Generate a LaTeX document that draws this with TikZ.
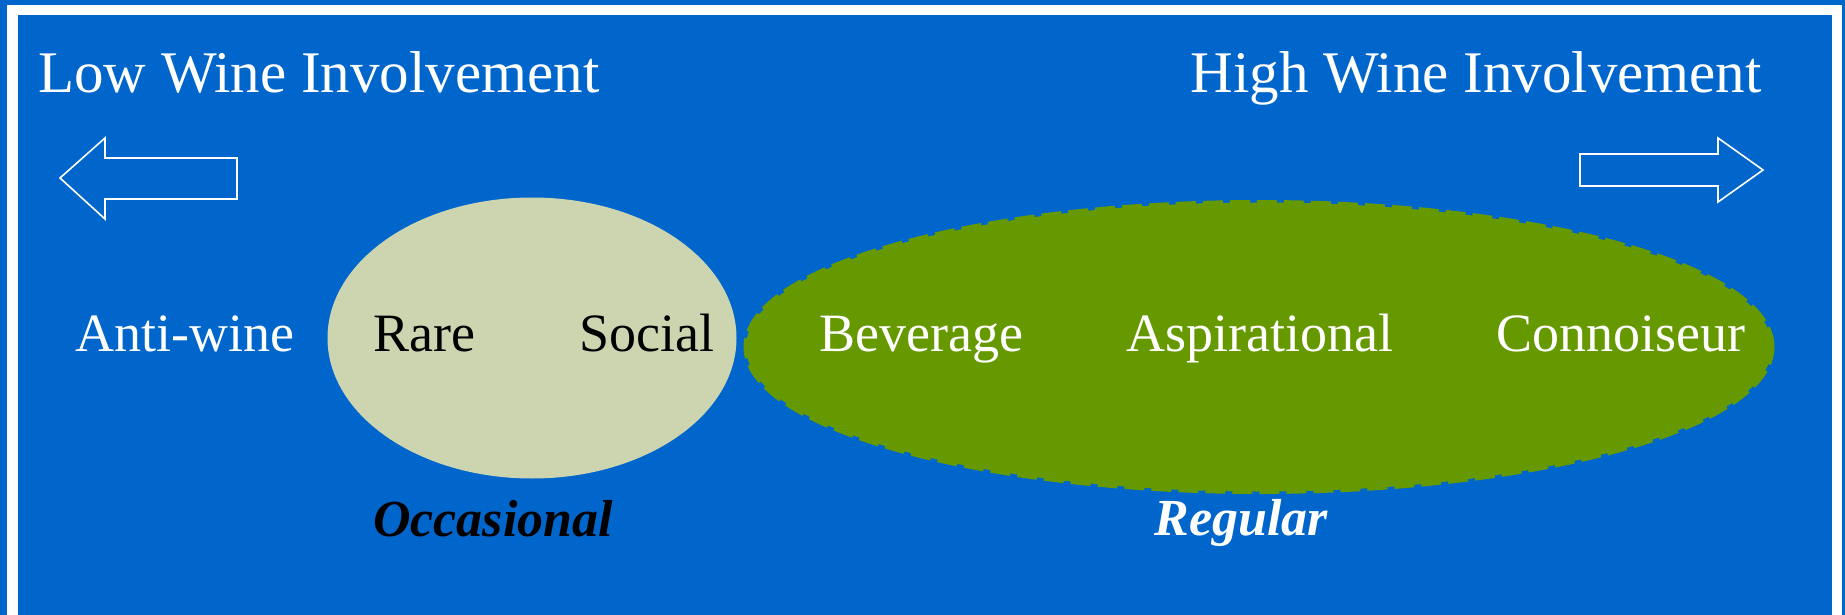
\documentclass[tikz,border=0pt]{standalone}
\usepackage{fontspec}
\setmainfont{Liberation Serif}
\usetikzlibrary{positioning,shapes.geometric,calc}
\definecolor{deepblue} {HTML}{0066CC}
\definecolor{leaf}     {HTML}{669900}
\definecolor{sage}     {HTML}{CCD5AF}
\tikzset{
  % --- text
  head/.style  = {text=white, anchor=base, inner sep=0pt, font=\fontsize{59}{70}\selectfont},
  seg/.style   = {text=white, anchor=base, inner sep=0pt, font=\fontsize{54}{64}\selectfont},
  grp/.style   = {anchor=base, inner sep=0pt, font=\fontsize{52}{62}\selectfont\bfseries\itshape},
  % --- shapes
  blob/.style  = {ellipse, inner sep=0pt},
  hollow/.style= {draw=white, line width=1.6pt, line join=miter},
}
\begin{document}
\begin{tikzpicture}[x=1pt,y=-1pt]
  \useasboundingbox (0,0) rectangle (1845,615);
  \fill[deepblue] (0,0) rectangle (1845,615);
  \draw[white, line width=10.5pt] (12.5,10) rectangle (1837,626);

  % involvement scale
  \node[head, anchor=base west] (low)  at (38,93)   {Low Wine Involvement};
  \node[head, anchor=base east] (high) at (1762,93) {High Wine Involvement};
  \draw[hollow] (60,178) -- (105,138) -- (105,158) -- (237,158)
                -- (237,199) -- (105,199) -- (105,219) -- cycle;
  \draw[hollow] (1580,154) -- (1718,154) -- (1718,138) -- (1763,170)
                -- (1718,202) -- (1718,186) -- (1580,186) -- cycle;

  % drinker groups
  \node[blob, fill=sage, minimum width=409pt, minimum height=281pt] (occ) at (532,338) {};
  \node[blob, fill=leaf, draw=leaf, line width=5pt, dash pattern=on 20pt off 7pt,
        minimum width=1026pt, minimum height=289pt] (reg) at (1259,347) {};

  \node[seg] (anti) at (185,351)  {Anti-wine};
  \node[seg, text=black] (rare) at (424,351) {Rare};
  \node[seg, text=black] (soc)  at (647,351) {Social};
  \node[seg] (bev)  at (921,351)  {Beverage};
  \node[seg] (asp)  at (1260,351) {Aspirational};
  \node[seg] (conn) at (1621,351) {Connoiseur};

  \node[grp, text=black] (occlbl) at (493,536)  {Occasional};
  \node[grp, text=white] (reglbl) at (1241,535) {Regular};
\end{tikzpicture}
\end{document}
